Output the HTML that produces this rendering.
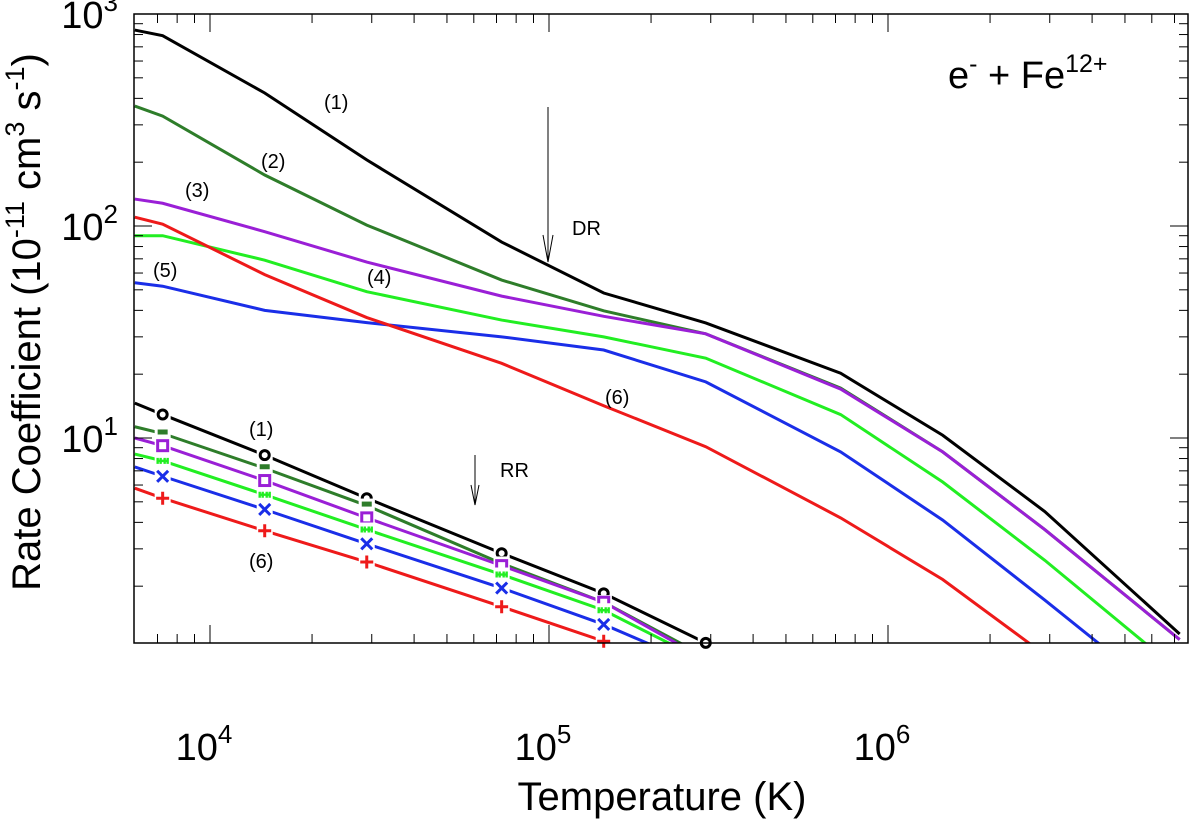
<!DOCTYPE html>
<html><head><meta charset="utf-8"><style>
body{margin:0;background:#fff;}
svg{display:block;font-family:"Liberation Sans",Arial,sans-serif;}
</style></head><body>
<svg id="chart" width="1200" height="819" viewBox="0 0 1200 819" xmlns="http://www.w3.org/2000/svg">
<defs><clipPath id="clip"><rect x="134" y="14" width="1054" height="629"/></clipPath></defs>
<g id="series" clip-path="url(#clip)"></g>
<g id="markers"></g>
<g id="axes"></g>
<rect x="134" y="14" width="1054" height="629" fill="none" stroke="#000" stroke-width="1.5"/>
<text x="948" y="88" font-size="38">e<tspan dy="-16" font-size="25">-</tspan><tspan dy="16"> + Fe</tspan><tspan dy="-16" font-size="25">12+</tspan></text>
<text x="662" y="810" font-size="40" text-anchor="middle">Temperature (K)</text>
<text transform="translate(40,322) rotate(-90)" font-size="40" text-anchor="middle">Rate Coefficient (10<tspan dy="-16" font-size="27">-11</tspan><tspan dy="16"> cm</tspan><tspan dy="-16" font-size="27">3</tspan><tspan dy="16"> s</tspan><tspan dy="-16" font-size="27">-1</tspan><tspan dy="16">)</tspan></text>
<g font-size="20">
<text x="324" y="109">(1)</text>
<text x="261" y="168">(2)</text>
<text x="185" y="197">(3)</text>
<text x="367" y="284">(4)</text>
<text x="153" y="277">(5)</text>
<text x="605" y="404">(6)</text>
<text x="249" y="436">(1)</text>
<text x="249" y="568">(6)</text>
<text x="572" y="235">DR</text>
<text x="500" y="477">RR</text>
</g>
<g stroke="#000" stroke-width="1" fill="none">
<path d="M548 107 V262 M543 235 L548 262 L553 235"/>
<path d="M475 455 V505 M471 485 L475 505 L479 485"/>
</g>
</svg>
<script>
const temps = [6000, 7250, 14500, 29000, 72500, 145000, 290000, 725000, 1450000, 2900000, 7250000];
const colors = ["#000000", "#2e7d2a", "#9a1fd6", "#22ee22", "#1a2ee8", "#ee1a1a"];
const dr1 = [840, 790, 424, 205, 84, 48.3, 34.9, 20.2, 10.3, 4.5, 1.19];
const dr2 = [368, 330, 174, 101, 55.6, 39.8, 31, 17.2, 8.6, 3.7, 1.12];
const dr3 = [134, 128, 94, 67.6, 46.7, 37.5, 31, 17, 8.6, 3.7, 1.12];
const dr4 = [90, 90, 69, 49, 36, 30, 23.8, 12.9, 6.2, 2.65, 0.79];
const dr5 = [54, 52, 40, 35, 30, 26, 18.4, 8.6, 4.1, 1.72, 0.53];
const dr6 = [110, 102, 59, 37, 22.5, 14.2, 9.1, 4.2, 2.15, 0.95, 0.25];
const rrTemps = [6000, 7250, 14500, 29000, 72500, 145000, 290000];
const rr1 = [14.6, 12.9, 8.3, 5.2, 2.86, 1.85, 1.08];
const rr2 = [11.3, 10.5, 7.2, 4.8, 2.56, 1.68, 0.93];
const rr3 = [10, 9.2, 6.3, 4.2, 2.5, 1.68, 0.9];
const rr4 = [8.4, 7.8, 5.4, 3.7, 2.27, 1.54, 0.88];
const rr5 = [7.3, 6.6, 4.6, 3.17, 1.96, 1.32, 0.82];
const rr6 = [5.8, 5.2, 3.65, 2.6, 1.6, 1.1, 0.6];
const markerTypes = ["circle", "half", "square", "star", "cross", "plus"];
const yTickValues = [1, 2, 3, 4, 5, 6, 7, 8, 9, 10, 20, 30, 40, 50, 60, 70, 80, 90, 100, 200, 300, 400, 500, 600, 700, 800, 900, 1000];
const xTickMajor = [10000, 100000, 1000000];
const xTickLabels = ["4", "5", "6"];
const yTickMajor = [10, 100, 1000];
const yTickLabels = ["1", "2", "3"];

const NS = "http://www.w3.org/2000/svg";
function xs(t){ return 888 + 339 * (Math.log10(t) - 6); }
function ys(v){ return 14 + 212 * (3 - Math.log10(v)); }
function mk(tag, attrs, parent){ const e = document.createElementNS(NS, tag); for (const k in attrs) e.setAttribute(k, attrs[k]); parent.appendChild(e); return e; }
const series = document.getElementById("series");
const markers = document.getElementById("markers");
const axes = document.getElementById("axes");
const drs = [dr1, dr2, dr3, dr4, dr5, dr6];
const rrs = [rr1, rr2, rr3, rr4, rr5, rr6];
drs.forEach((d, i) => {
  const p = mk("polyline", {points: d.map((v, j) => xs(temps[j]) + "," + ys(v)).join(" "), fill: "none", stroke: colors[i], "stroke-width": 3}, series);
  
  
});
rrs.forEach((d, i) => {
  const p = mk("polyline", {points: d.map((v, j) => xs(rrTemps[j]) + "," + ys(v)).join(" "), fill: "none", stroke: colors[i], "stroke-width": 3}, series);
  
  
});
rrs.forEach((d, i) => {
  d.forEach((v, j) => {
    if (j === 0) return;
    const x = xs(rrTemps[j]), y = ys(v);
    if (y > 646) return;
    if (j === 6 && i !== 0) return;
    const g = mk("g", {}, markers);
    
    
    mk("rect", {x: x - 8, y: y - 7, width: 16, height: 14, fill: "#fff"}, g);
    const c = colors[i], sw = 3, t = markerTypes[i];
    if (t === "circle") mk("circle", {cx: x, cy: y, r: 4.5, fill: "none", stroke: c, "stroke-width": sw}, g);
    else if (t === "half") mk("rect", {x: x - 5, y: y - 4, width: 10, height: 5, fill: c}, g);
    else if (t === "square") mk("rect", {x: x - 5, y: y - 5, width: 10, height: 10, fill: "none", stroke: c, "stroke-width": sw}, g);
    else if (t === "star") mk("path", {d: `M${x-5} ${y-3}V${y+3}M${x+5} ${y-3}V${y+3}M${x-5} ${y}H${x+5}M${x-2} ${y-3}V${y+3}M${x+2} ${y-3}V${y+3}`, stroke: c, "stroke-width": 2.4}, g);
    else if (t === "cross") mk("path", {d: `M${x-5.5} ${y-5.5}L${x+5.5} ${y+5.5}M${x+5.5} ${y-5.5}L${x-5.5} ${y+5.5}`, stroke: c, "stroke-width": sw}, g);
    else mk("path", {d: `M${x-6.5} ${y}H${x+6.5}M${x} ${y-6.5}V${y+6.5}`, stroke: c, "stroke-width": sw}, g);
  });
});
for (let e = 3; e <= 6; e++) for (let m = 1; m <= 9; m++) {
  const t = m * Math.pow(10, e), x = xs(t);
  if (x < 135 || x > 1187) continue;
  const L = m === 1 ? 18 : 9;
  mk("line", {x1: x, x2: x, y1: 643, y2: 643 - L, stroke: "#000", "stroke-width": 1}, axes);
  mk("line", {x1: x, x2: x, y1: 14, y2: 14 + L, stroke: "#000", "stroke-width": 1}, axes);
}
xTickMajor.forEach((t, i) => {
  const tx = mk("text", {x: xs(t) - 6, y: 760, "font-size": 38, "text-anchor": "middle"}, axes);
  
  
  tx.innerHTML = '10<tspan dy="-17" font-size="26">' + xTickLabels[i] + '</tspan>';
});
yTickValues.forEach(v => {
  const y = ys(v);
  if (y < 14 || y > 643) return;
  const L = yTickMajor.includes(v) ? 18 : 9;
  mk("line", {x1: 134, x2: 134 + L, y1: y, y2: y, stroke: "#000", "stroke-width": 1}, axes);
  mk("line", {x1: 1188, x2: 1188 - L, y1: y, y2: y, stroke: "#000", "stroke-width": 1}, axes);
});
yTickMajor.forEach((v, i) => {
  const tx = mk("text", {x: 118, y: ys(v) + 14, "font-size": 38, "text-anchor": "end"}, axes);
  
  
  tx.innerHTML = '10<tspan dy="-17" font-size="26">' + yTickLabels[i] + '</tspan>';
});
</script>
</body></html>
